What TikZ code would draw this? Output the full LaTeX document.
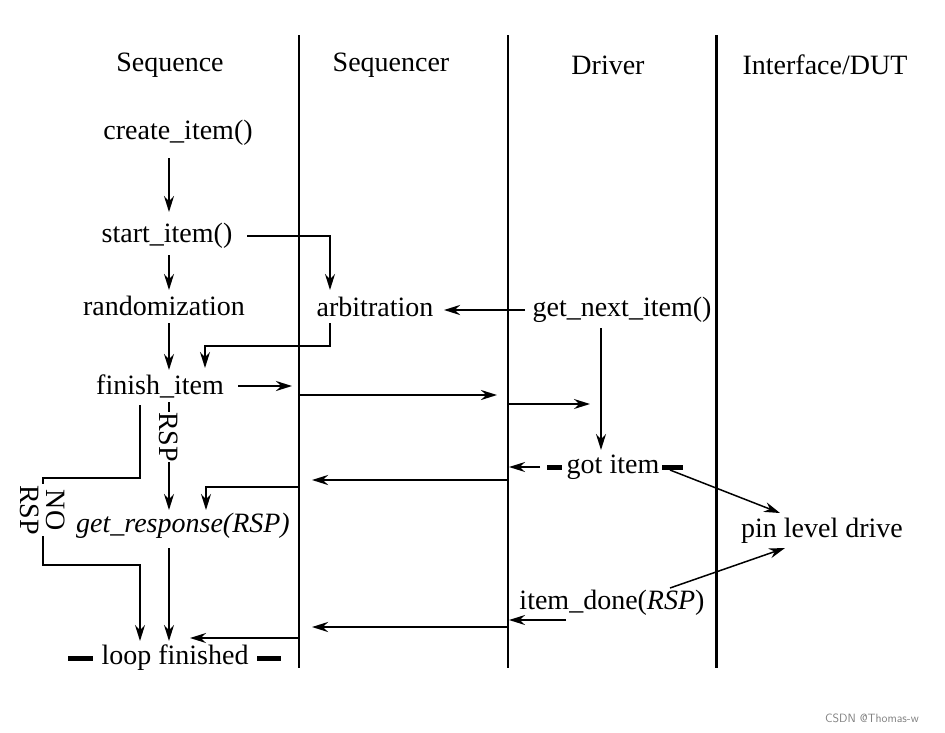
\documentclass[tikz,border=0pt]{standalone}
\usepackage{fontspec}
\setmainfont{Liberation Serif}
\usetikzlibrary{arrows.meta}
\begin{document}
\begin{tikzpicture}[x=1pt,y=-1pt,
  txt/.style={inner sep=1pt,font=\fontsize{28}{30}\selectfont},
  ar/.style={-{Stealth[length=16pt,width=10pt]},line width=1.5pt},
  tk/.style={ar,line width=2.4pt},
  ln/.style={line width=1.5pt},
  bar/.style={line width=5pt}]
\useasboundingbox (0,0) rectangle (945,732);
\draw[line width=1.5pt] (299,35) -- (299,668);
\draw[line width=1.5pt] (508,35) -- (508,668);
\draw[line width=3pt] (716,35) -- (716,668);
\node[txt] (h1) at (170,65) {Sequence};
\node[txt] (h2) at (391,65) {Sequencer};
\node[txt] (h3) at (608,65) {Driver};
\node[txt] (h4) at (825,65) {Interface/DUT};
\node[txt] (ci) at (178,133) {create\_item()};
\node[txt] (si) at (167,236) {start\_item()};
\node[txt] (rz) at (164,306) {randomization};
\node[txt] (fi) at (160,386) {finish\_item};
\node[txt,font=\fontsize{28}{30}\selectfont\itshape] (gr) at (183,526) {get\_response(RSP)};
\node[txt] (lf) at (175,658) {loop finished};
\node[txt] (ab) at (375,307) {arbitration};
\node[txt] (gn) at (622,310) {get\_next\_item()};
\node[txt] (gi) at (613,467) {got item};
\node[txt] (pl) at (822,531) {pin level drive};
\node[txt] (id) at (612,603) {item\_done(\textit{RSP})};
\coordinate (c1) at (169,158); \coordinate (c2) at (169,212);
\draw[ar] (c1) -- (c2);
\draw[ar] (169,255) -- (169,290);
\draw[ar] (169,323) -- (169,370);
\draw[ar] (247,236) -- (330,236) -- (330,290);
\coordinate (abe) at (444,310);
\draw[tk] (525,310) -- (abe);
\draw[ar] (330,323) -- (330,346) -- (205,346) -- (205,368);
\draw[tk] (238,386) -- (292,386);
\draw[tk] (299,395) -- (497,395);
\draw[ar] (508,404) -- (590,404);
\draw[ar] (601,328) -- (601,450);
\draw[bar] (547,467) -- (562,467);
\draw[bar] (662,467) -- (683,467);
\draw[ar] (540,467) -- (509,467);
\draw[tk] (508,480) -- (312,480);
\draw[ar] (299,487) -- (206,487) -- (206,510);
\draw[ar] (670,470) -- (780,513);
\draw[ar] (670,588) -- (785,548);
\draw[ar] (566,620) -- (509,620);
\draw[tk] (508,627) -- (312,627);
\draw[ar] (299,638) -- (190,638);
\draw[bar] (68,658) -- (93,658);
\draw[bar] (257,658) -- (281,658);
% RSP branch
\draw[ln] (169,402) -- (169,460);
\draw[ar] (169,460) -- (169,510);
\node[txt,fill=white,rotate=-90,inner sep=0pt] (rsp) at (169,437) {RSP};
\draw[ar] (169,548) -- (169,641);
% NO RSP branch
\draw[ar] (140,405) -- (140,478) -- (43,478) -- (43,565) -- (140,565) -- (140,641);
\node[txt,fill=white,rotate=-90,align=center,font=\fontsize{28}{26}\selectfont] (nr) at (43,510) {NO\\RSP};
\node[font=\fontsize{12}{13}\selectfont\sffamily,text=gray] (wm) at (872,718) {CSDN @Thomas-w};
\end{tikzpicture}
\end{document}
